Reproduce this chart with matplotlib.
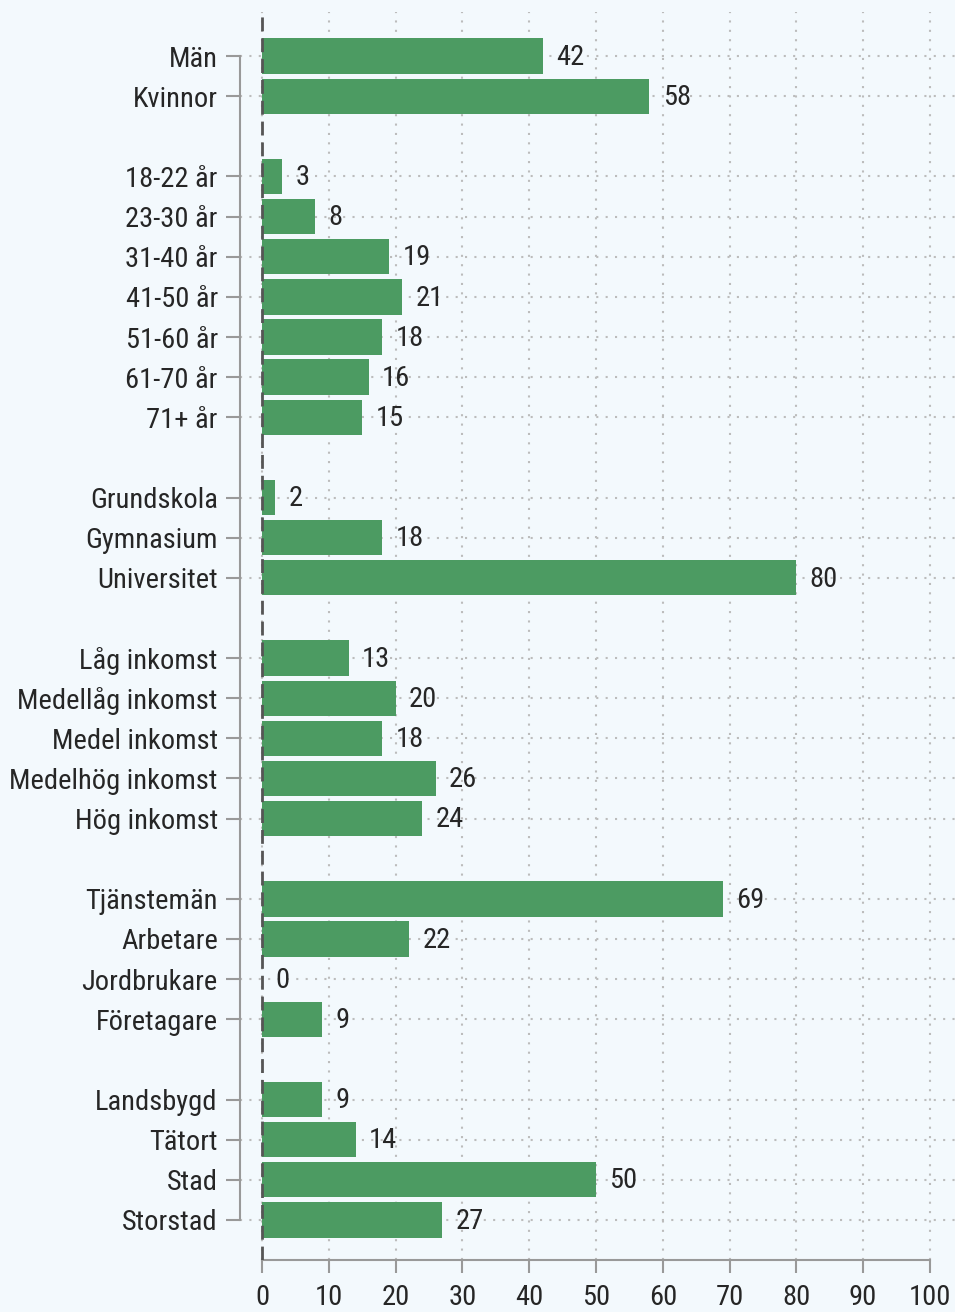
import numpy as np
import matplotlib.pyplot as plt

# Data
categories = ['Män', 'Kvinnor',
              '18-22 år', '23-30 år', '31-40 år', '41-50 år', '51-60 år', '61-70 år', '71+ år',
              'Grundskola', 'Gymnasium', 'Universitet',
              'Låg inkomst', 'Medellåg inkomst', 'Medel inkomst', 'Medelhög inkomst', 'Hög inkomst',
              'Tjänstemän', 'Arbetare', 'Jordbrukare', 'Företagare',
              'Landsbygd', 'Tätort', 'Stad', 'Storstad']
values = [42, 58,
          3, 8, 19, 21, 18, 16, 15,
          2, 18, 80,
          13, 20, 18, 26, 24,
          69, 22, 0, 9,
          9, 14, 50, 27]
group_sizes = [2, 7, 3, 5, 4, 4]

# y-positions with one empty slot between groups
pos = []
p = 0
for g in group_sizes:
    for i in range(g):
        pos.append(p)
        p += 1
    p += 1
pos = np.array(pos)

plt.rcParams['font.family'] = ['Roboto Condensed', 'Fira Sans Condensed', 'PT Sans Narrow', 'DejaVu Sans']
bg = '#f3f9fd'
green = '#4c9b62'
txt = '#262626'
fs = 20.5

fig = plt.figure(figsize=(9.55, 13.12), dpi=100, facecolor=bg)
ax = fig.add_axes([0.2513, 0.0396, 0.7497, 0.9513], facecolor=bg)

ax.barh(pos, values, height=0.88, color=green, zorder=3)
for y, v in zip(pos, values):
    ax.text(v + 2.0, y + 0.03, str(v), va='center', ha='left', fontsize=fs, color=txt, zorder=4)

ax.axvline(0, color='#555555', lw=2, ls=(0, (5, 2.5)), zorder=5)

ax.set_xlim(-3.3, 103.9)
ax.set_ylim(30.0, -1.1)
ax.set_xticks(np.arange(0, 101, 10))
ax.set_yticks(pos)
ax.set_yticklabels(categories)

ax.grid(True, color='#bcbcbc', ls=(0, (1, 3.5)), lw=1.5, zorder=0)
ax.set_axisbelow(True)

for s in ['top', 'right']:
    ax.spines[s].set_visible(False)
ax.spines['left'].set_bounds(pos[0], pos[-1])
ax.spines['bottom'].set_bounds(0, 100)
ax.spines['left'].set_color('#999999')
ax.spines['bottom'].set_color('#999999')
ax.spines['left'].set_linewidth(1.5)
ax.spines['bottom'].set_linewidth(1.5)

ax.tick_params(axis='y', length=10, width=1.5, color='#999999', pad=6,
               labelsize=fs, labelcolor=txt)
ax.tick_params(axis='x', length=9, width=1.5, color='#999999', pad=8,
               labelsize=fs, labelcolor=txt)

fig.savefig('out.png', dpi=100, facecolor=bg)
